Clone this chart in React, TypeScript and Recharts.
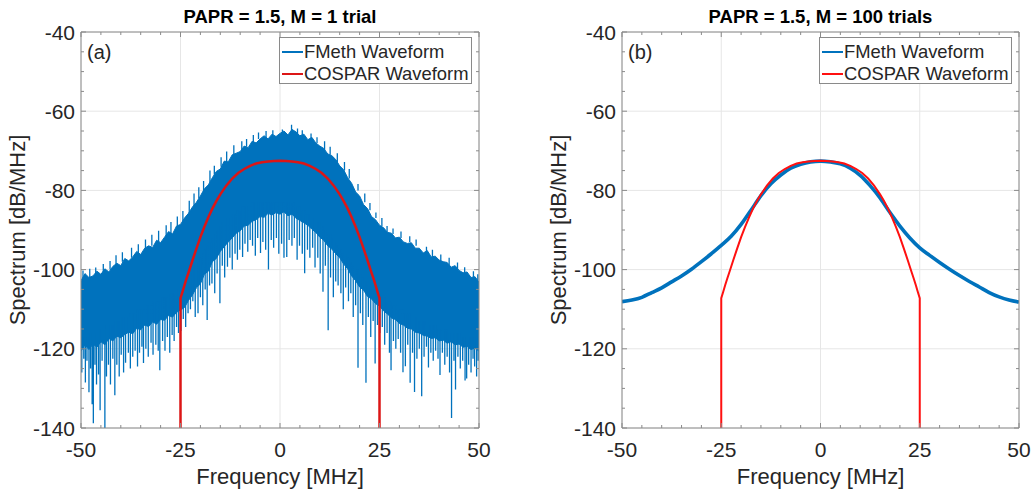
import React from 'react';
import { ComposedChart, Area, Line, XAxis, YAxis, CartesianGrid } from 'recharts';

const BLUE = '#0072BD';
const INK = '#262626';
const BOX = '#8a8a8a';
const FONT = '"Liberation Sans", Arial, Helvetica, sans-serif';

// axis ticks
const freqTicks = [-50, -45, -40, -35, -30, -25, -20, -15, -10, -5, 0, 5, 10, 15, 20, 25, 30, 35, 40, 45, 50];
const freqLabels = [-50, -25, 0, 25, 50];
const levelTicks = [-140, -135, -130, -125, -120, -115, -110, -105, -100, -95, -90, -85, -80, -75, -70, -65, -60, -55, -50, -45, -40];
const levelLabels = [-140, -120, -100, -80, -60, -40];

// (a) single trial: envelope of the noisy FMeth spectrum, 1 MHz steps
const bandFreq = [
  -50, -49, -48, -47, -46, -45, -44, -43, -42, -41, -40, -39, -38, -37, -36, -35, -34, -33, -32, -31,
  -30, -29, -28, -27, -26, -25, -24, -23, -22, -21, -20, -19, -18, -17, -16, -15, -14, -13, -12, -11,
  -10, -9, -8, -7, -6, -5, -4, -3, -2, -1, 0, 1, 2, 3, 4, 5, 6, 7, 8, 9,
  10, 11, 12, 13, 14, 15, 16, 17, 18, 19, 20, 21, 22, 23, 24, 25, 26, 27, 28, 29,
  30, 31, 32, 33, 34, 35, 36, 37, 38, 39, 40, 41, 42, 43, 44, 45, 46, 47, 48, 49, 50,
];
const bandHigh = [
  -102.8, -101.0, -102.0, -101.6, -100.4, -101.2, -99.8, -100.6, -99.2, -98.4, -99.0, -97.2, -97.8, -96.8, -95.4, -96.2, -94.6, -94.0, -94.4, -92.6,
  -93.2, -91.8, -90.4, -91.0, -89.0, -88.6, -87.0, -85.8, -84.2, -83.0, -81.4, -79.6, -78.6, -76.8, -75.2, -74.6, -72.6, -72.8, -71.0, -70.6,
  -70.2, -68.8, -69.2, -67.6, -68.0, -67.0, -66.2, -67.0, -65.8, -66.4, -65.6, -65.0, -66.0, -64.6, -65.2, -66.2, -65.8, -67.2, -66.6, -68.0,
  -68.8, -69.4, -70.8, -71.2, -72.2, -73.8, -74.8, -76.8, -78.2, -80.4, -81.4, -83.6, -84.6, -86.6, -87.4, -88.8, -89.4, -90.6, -90.8, -92.0,
  -91.8, -93.0, -93.4, -93.2, -94.6, -94.6, -95.8, -95.2, -96.8, -96.6, -97.6, -98.0, -98.2, -99.4, -99.0, -100.2, -100.8, -100.6, -102.0, -101.8, -103.2,
];
const bandLow = [
  -120.6, -119.0, -120.2, -118.8, -119.6, -118.2, -119.0, -117.4, -118.0, -116.8, -117.2, -116.4, -115.8, -116.2, -114.8, -115.2, -114.0, -114.4, -113.2, -113.8,
  -112.6, -112.8, -111.6, -112.0, -110.8, -110.2, -109.6, -107.8, -106.4, -104.6, -103.6, -101.2, -100.4, -98.0, -97.2, -95.4, -94.2, -93.0, -92.0, -90.8,
  -90.2, -89.0, -88.8, -87.8, -87.4, -86.6, -86.8, -85.8, -86.2, -85.6, -86.0, -85.4, -86.4, -86.0, -87.0, -87.6, -88.2, -88.8, -89.8, -90.6,
  -91.8, -92.6, -94.0, -94.8, -96.0, -97.0, -98.6, -99.8, -101.6, -102.8, -104.4, -105.2, -106.8, -107.4, -108.6, -109.2, -110.4, -111.2, -112.2, -112.6,
  -113.6, -114.0, -114.8, -115.0, -115.8, -116.0, -116.6, -116.8, -117.4, -117.2, -118.0, -117.8, -118.6, -118.2, -119.0, -118.8, -119.6, -119.4, -120.2, -119.8, -120.6,
];
// isolated noise spikes below the dense band: [frequency, start level, tip level]
const dips: [number, number, number][] = [
  [-49.8, -117, -126], [-49.3, -117, -122.5], [-48.9, -117, -128.5], [-48.5, -117, -123], [-48.0, -117, -131],
  [-47.6, -116, -125], [-47.2, -116, -134], [-46.9, -116, -138.8], [-46.5, -116, -124], [-46.1, -116, -129],
  [-45.6, -115, -126.5], [-45.2, -115, -135.5], [-44.7, -115, -123], [-44.0, -115, -140], [-43.6, -114, -127],
  [-43.1, -114, -124], [-42.6, -114, -129], [-42.0, -114, -122.5], [-41.5, -113, -131.7], [-41.0, -113, -124],
  [-40.4, -113, -127], [-39.9, -112, -121.5], [-39.3, -112, -126], [-38.8, -112, -123.5], [-38.1, -112, -121],
  [-37.6, -111, -125], [-37.0, -111, -122], [-36.4, -111, -120.5], [-35.8, -110, -124.5], [-35.3, -110, -121],
  [-34.7, -110, -119.5], [-34.3, -110, -123.6], [-33.7, -109, -120], [-33.1, -109, -122], [-32.4, -109, -118.5],
  [-31.9, -108, -121.5], [-31.2, -108, -119], [-30.6, -108, -120.5], [-30.2, -108, -125.4], [-29.5, -107, -118],
  [-28.9, -107, -120.5], [-28.3, -107, -117], [-27.7, -106, -121], [-27.1, -106, -116.5], [-26.6, -106, -118],
  [-26.0, -105, -114.5], [-25.5, -105, -116], [-24.9, -104, -115.5], [-24.3, -104, -112.5],
  [-23.7, -103, -114.5], [-23.1, -102, -111], [-22.5, -101, -110], [-21.9, -100, -108], [-21.3, -99, -112],
  [-20.6, -98, -111], [-20.0, -97, -107], [-19.4, -96, -109], [-18.8, -95, -105], [-18.3, -94, -112.7],
  [-17.7, -93, -104], [-17.1, -92, -103.5], [-16.4, -91, -106], [-15.8, -90, -101], [-15.1, -89, -108.5],
  [-14.5, -88, -99], [-13.9, -88, -102], [-13.2, -87, -99.3], [-12.6, -87, -97], [-12.0, -86, -100],
  [-11.3, -86, -96], [-10.7, -85, -97.5], [-10.1, -85, -95], [-9.4, -84, -96.8], [-8.8, -84, -93.5],
  [-8.1, -84, -95.5], [-7.5, -84, -92.5], [-6.9, -83, -94], [-6.2, -83, -96.5], [-5.6, -83, -92],
  [-4.9, -83, -95.8], [-4.3, -83, -93], [-3.6, -83, -95], [-2.9, -83, -100], [-2.2, -83, -92.5],
  [-1.6, -83, -94.5], [-0.9, -83, -92], [-0.3, -83, -96], [0.4, -83, -93.5], [1.0, -83, -97],
  [1.7, -83, -96.8], [2.3, -83, -92.5], [3.0, -83, -94], [3.6, -83, -92], [4.3, -84, -97.5],
  [4.9, -84, -94], [5.6, -85, -96], [6.2, -85, -100.9], [6.9, -86, -95], [7.5, -86, -97],
  [8.2, -87, -94.5], [8.8, -87, -99.5], [9.5, -88, -97], [10.1, -88, -101], [10.8, -89, -105.6],
  [11.4, -90, -99], [12.1, -91, -115.3], [12.7, -91, -102], [13.4, -92, -107], [14.0, -93, -103],
  [14.6, -94, -104], [15.3, -95, -106], [15.9, -96, -110], [16.5, -96, -104.5], [17.2, -97, -108],
  [17.8, -98, -106], [18.4, -99, -112], [19.0, -100, -109], [19.6, -100, -124.8], [20.2, -101, -111],
  [20.8, -102, -114], [21.6, -103, -128.6], [22.2, -104, -112], [22.8, -104, -117], [23.4, -105, -113],
  [23.9, -105, -123.7], [24.5, -106, -114],
  [25.1, -106, -116], [25.7, -107, -114.5], [26.3, -107, -119], [26.9, -108, -116], [27.5, -108, -121],
  [27.9, -108, -125.4], [28.5, -109, -118], [29.1, -109, -120], [29.7, -110, -117.5], [30.3, -110, -121],
  [30.9, -110, -125.9], [31.5, -111, -124.4], [32.1, -111, -119], [32.7, -111, -128.6], [33.3, -112, -121],
  [33.8, -112, -130.9], [34.4, -112, -122.5], [35.0, -113, -120], [35.6, -113, -132], [36.2, -113, -122],
  [36.8, -113, -119.5], [37.3, -114, -124.7], [37.9, -114, -121], [38.5, -114, -123], [39.1, -114, -120.5],
  [39.7, -115, -122.5], [40.2, -115, -126.6], [40.8, -115, -121], [41.4, -115, -124], [42.0, -115, -122],
  [42.6, -116, -126], [43.1, -116, -137.5], [43.7, -116, -123], [44.1, -116, -130.3], [44.7, -116, -122],
  [45.3, -116, -125], [45.9, -117, -123], [46.5, -117, -128], [46.9, -117, -127.5], [47.4, -117, -124],
  [48.0, -117, -126], [48.5, -117, -122.5], [48.9, -117, -124.5], [49.4, -117, -127], [49.8, -117, -123],
];
// small spikes above the dense band: [frequency, start level, tip level]
const peaks: [number, number, number][] = [
  [-49.5, -104, -100.2], [-47.8, -103, -99.8], [-46.3, -102, -99.5], [-44.4, -101, -98.6], [-42.7, -100, -97.8],
  [-41.2, -99, -96.4], [-39.6, -98, -95.6], [-37.3, -97, -94.5], [-35.6, -96, -93.6], [-33.8, -95, -92.4],
  [-32.2, -94, -91.2], [-30.5, -93, -90.2], [-28.6, -92, -88.8], [-27.4, -91, -88.0], [-25.8, -89, -86.6],
  [-24.4, -88, -85.2], [-22.8, -86, -82.6], [-21.6, -84, -80.8], [-20.4, -82, -79.2], [-19.2, -80, -77.6],
  [-17.6, -78, -75.0], [-16.5, -76, -73.8], [-14.8, -74, -71.6], [-13.4, -73, -70.2], [-11.6, -71, -68.6],
  [-9.6, -70, -67.6], [-8.4, -69, -67.0], [-6.7, -68, -66.0], [-5.4, -67, -65.4], [-3.5, -67, -65.0],
  [-1.8, -66, -64.8], [0.6, -66, -64.6], [2.9, -66, -63.4], [4.4, -66, -64.4], [5.6, -67, -64.8],
  [7.8, -67, -65.6], [9.3, -68, -66.6], [11.2, -70, -67.6], [12.6, -71, -69.0], [14.4, -73, -70.6],
  [16.2, -75, -72.8], [17.4, -77, -74.6], [19.6, -80, -78.4], [21.3, -83, -80.8], [22.6, -85, -83.2],
  [24.1, -87, -85.6], [25.6, -89, -87.0], [26.9, -91, -89.0], [28.4, -91, -89.6], [30.4, -92, -90.4],
  [32.6, -93, -91.6], [34.2, -94, -92.4], [36.8, -96, -94.2], [38.3, -97, -95.0], [40.4, -98, -96.2],
  [42.5, -99, -97.0], [44.6, -100, -98.2], [46.4, -101, -99.4], [48.6, -102, -100.4], [49.7, -103, -101.2],
];

// (b) 100-trial average FMeth spectrum
const avgFreq = [
  -50, -47.5, -45, -42.5, -40, -37.5, -35, -32.5, -30, -27.5, -25, -22.5, -20, -17.5, -15, -12.5, -10, -7.5, -5, -2.5,
  0, 2.5, 5, 7.5, 10, 12.5, 15, 17.5, 20, 22.5, 25, 27.5, 30, 32.5, 35, 37.5, 40, 42.5, 45, 47.5, 50,
];
const avgLevel = [
  -108.1, -107.7, -107.0, -105.8, -104.6, -103.1, -101.6, -99.9, -98.0, -96.0, -93.9, -91.6, -88.6, -85.0, -81.3, -78.3, -76.1, -74.4, -73.4, -72.8,
  -72.6, -72.8, -73.3, -74.4, -76.2, -78.8, -81.9, -85.6, -89.0, -92.0, -94.5, -96.4, -98.2, -99.9, -101.5, -103.0, -104.4, -105.8, -106.9, -107.7, -108.2,
];

// COSPAR mask waveform
const cosparFreq = [
  -25, -25, -24.5, -24, -23.5, -23, -22, -21, -20, -19, -18, -17, -16, -15, -13.5, -12, -10.5, -9, -7.5, -6, -4.5, -3, -1.5,
  0, 1.5, 3, 4.5, 6, 7.5, 9, 10.5, 12, 13.5, 15, 16, 17, 18, 19, 20, 21, 22, 23, 23.5, 24, 24.5, 25, 25,
];
const cosparLevel = [
  -140, -107.2, -105.6, -103.9, -102.3, -100.8, -97.7, -94.7, -91.8, -89.2, -86.8, -84.6, -82.7, -81.0, -78.8, -77.0, -75.6, -74.6, -73.8, -73.2, -72.9, -72.7, -72.55,
  -72.5, -72.55, -72.7, -72.9, -73.2, -73.8, -74.6, -75.6, -77.0, -78.8, -81.0, -82.7, -84.6, -86.8, -89.2, -91.8, -94.7, -97.7, -100.8, -102.3, -103.9, -105.6, -107.2, -140,
];

const bandRows = bandFreq.map((f, i) => ({ f, range: [bandLow[i], bandHigh[i]] }));
const spikeRows = [...dips, ...peaks].flatMap(([f, a, b]) => [
  { f, v: a },
  { f, v: b },
  { f, v: null },
]);
const avgRows = avgFreq.map((f, i) => ({ f, v: avgLevel[i] }));
const cosparRows = cosparFreq.map((f, i) => ({ f, v: cosparLevel[i] }));

const BottomTick = (props: any) => {
  const { x, y, payload } = props;
  const major = freqLabels.includes(payload.value);
  return (
    <g>
      <line x1={x} x2={x} y1={y} y2={y - (major ? 5 : 3)} stroke={BOX} />
      {major && (
        <text x={x} y={y + 29} textAnchor="middle" fontSize={21} fill={INK} fontFamily={FONT}>
          {payload.value}
        </text>
      )}
    </g>
  );
};

const TopTick = (props: any) => {
  const { x, y, payload } = props;
  const major = freqLabels.includes(payload.value);
  return <line x1={x} x2={x} y1={y} y2={y + (major ? 5 : 3)} stroke={BOX} />;
};

const LeftTick = (props: any) => {
  const { x, y, payload } = props;
  const major = levelLabels.includes(payload.value);
  return (
    <g>
      <line x1={x} x2={x + (major ? 5 : 3)} y1={y} y2={y} stroke={BOX} />
      {major && (
        <text x={x - 6} y={y + 7.5} textAnchor="end" fontSize={21} fill={INK} fontFamily={FONT}>
          {payload.value}
        </text>
      )}
    </g>
  );
};

const RightTick = (props: any) => {
  const { x, y, payload } = props;
  const major = levelLabels.includes(payload.value);
  return <line x1={x} x2={x - (major ? 5 : 3)} y1={y} y2={y} stroke={BOX} />;
};

function Frame({ children, left, width, plotLeft, plotRight }: any) {
  return (
    <div style={{ position: 'absolute', left, top: 0 }}>
      <ComposedChart
        width={width}
        height={494}
        data={bandRows}
        margin={{ top: 31, right: width - plotRight - 1, bottom: 36, left: plotLeft - 60 }}
      >
        <CartesianGrid stroke="#e6e6e6" horizontalValues={levelLabels} verticalValues={freqLabels} />
        <XAxis
          xAxisId={0}
          dataKey="f"
          type="number"
          domain={[-50, 50]}
          ticks={freqTicks}
          interval={0}
          allowDataOverflow
          height={30}
          tickSize={0}
          tickMargin={0}
          tickLine={false}
          axisLine={{ stroke: BOX }}
          tick={(p: any) => <BottomTick {...p} />}
        />
        <XAxis
          xAxisId="top"
          orientation="top"
          dataKey="f"
          type="number"
          domain={[-50, 50]}
          ticks={freqTicks}
          interval={0}
          allowDataOverflow
          height={1}
          tickSize={0}
          tickMargin={0}
          tickLine={false}
          axisLine={{ stroke: BOX }}
          tick={(p: any) => <TopTick {...p} />}
        />
        <YAxis
          yAxisId={0}
          type="number"
          domain={[-140, -40]}
          ticks={levelTicks}
          interval={0}
          allowDataOverflow
          width={60}
          tickSize={0}
          tickMargin={0}
          tickLine={false}
          axisLine={{ stroke: BOX }}
          tick={(p: any) => <LeftTick {...p} />}
        />
        <YAxis
          yAxisId="right"
          orientation="right"
          type="number"
          domain={[-140, -40]}
          ticks={levelTicks}
          interval={0}
          allowDataOverflow
          width={1}
          tickSize={0}
          tickMargin={0}
          tickLine={false}
          axisLine={{ stroke: BOX }}
          tick={(p: any) => <RightTick {...p} />}
        />
        {children}
      </ComposedChart>
    </div>
  );
}

const textBase: React.CSSProperties = {
  position: 'absolute',
  fontFamily: FONT,
  color: INK,
  whiteSpace: 'nowrap',
  lineHeight: 1,
};

function Legend({ left, red }: { left: number; red: string }) {
  return (
    <div
      style={{
        position: 'absolute',
        left,
        top: 37,
        width: 193,
        height: 47,
        boxSizing: 'border-box',
        border: '1px solid #8a8a8a',
        background: '#fff',
        fontFamily: FONT,
        fontSize: 18.4,
        color: INK,
      }}
    >
      {[
        { label: 'FMeth Waveform', color: BLUE, top: 5 },
        { label: 'COSPAR Waveform', color: red, top: 27 },
      ].map((e) => (
        <div key={e.label} style={{ position: 'absolute', left: 2, top: e.top, display: 'flex', alignItems: 'center', whiteSpace: 'nowrap', lineHeight: '18px' }}>
          <span style={{ display: 'inline-block', width: 21, height: 0, borderTop: `2px solid ${e.color}`, marginRight: 1 }} />
          {e.label}
        </div>
      ))}
    </div>
  );
}

function Panel({ left, width, plotLeft, plotRight, title, tag, single }: any) {
  const cx = left + (plotLeft + plotRight) / 2;
  const red = single ? '#dc1616' : '#ff1010';
  return (
    <>
      <Frame left={left} width={width} plotLeft={plotLeft} plotRight={plotRight}>
        {single && (
          <Area
            type="linear"
            dataKey="range"
            stroke={BLUE}
            strokeWidth={1}
            fill={BLUE}
            fillOpacity={1}
            dot={false}
            activeDot={false}
            isAnimationActive={false}
          />
        )}
        {single && (
          <Line
            data={spikeRows}
            dataKey="v"
            type="linear"
            stroke={BLUE}
            strokeWidth={1.3}
            dot={false}
            activeDot={false}
            connectNulls={false}
            isAnimationActive={false}
          />
        )}
        {!single && (
          <Line
            data={avgRows}
            dataKey="v"
            type="monotone"
            stroke={BLUE}
            strokeWidth={3.6}
            dot={false}
            activeDot={false}
            isAnimationActive={false}
          />
        )}
        <Line
          data={cosparRows}
          dataKey="v"
          type="linear"
          stroke={red}
          strokeWidth={single ? 2.5 : 2}
          dot={false}
          activeDot={false}
          isAnimationActive={false}
        />
      </Frame>
      <div style={{ ...textBase, left: cx, top: 16.5, transform: 'translate(-50%, -50%)', fontSize: 18.5, fontWeight: 'bold', color: '#000' }}>
        {title}
      </div>
      <div style={{ ...textBase, left: cx, top: 477, transform: 'translate(-50%, -50%)', fontSize: 22 }}>
        Frequency [MHz]
      </div>
      <div style={{ ...textBase, left: left + plotLeft - 63, top: 230, transform: 'translate(-50%, -50%) rotate(-90deg)', fontSize: 22 }}>
        Spectrum [dB/MHz]
      </div>
      <div style={{ ...textBase, left: left + plotLeft + 6, top: 52, transform: 'translateY(-50%)', fontSize: 20 }}>
        {tag}
      </div>
      <Legend left={left + plotRight - 200} red={red} />
    </>
  );
}

export default function App() {
  return (
    <div style={{ position: 'absolute', left: 0, top: 0, width: 1033, height: 494, background: '#fff', overflow: 'hidden' }}>
      <Panel left={0} width={500} plotLeft={81} plotRight={479} title="PAPR = 1.5, M = 1 trial" tag="(a)" single />
      <Panel left={520} width={513} plotLeft={102} plotRight={499} title="PAPR = 1.5, M = 100 trials" tag="(b)" />
    </div>
  );
}
